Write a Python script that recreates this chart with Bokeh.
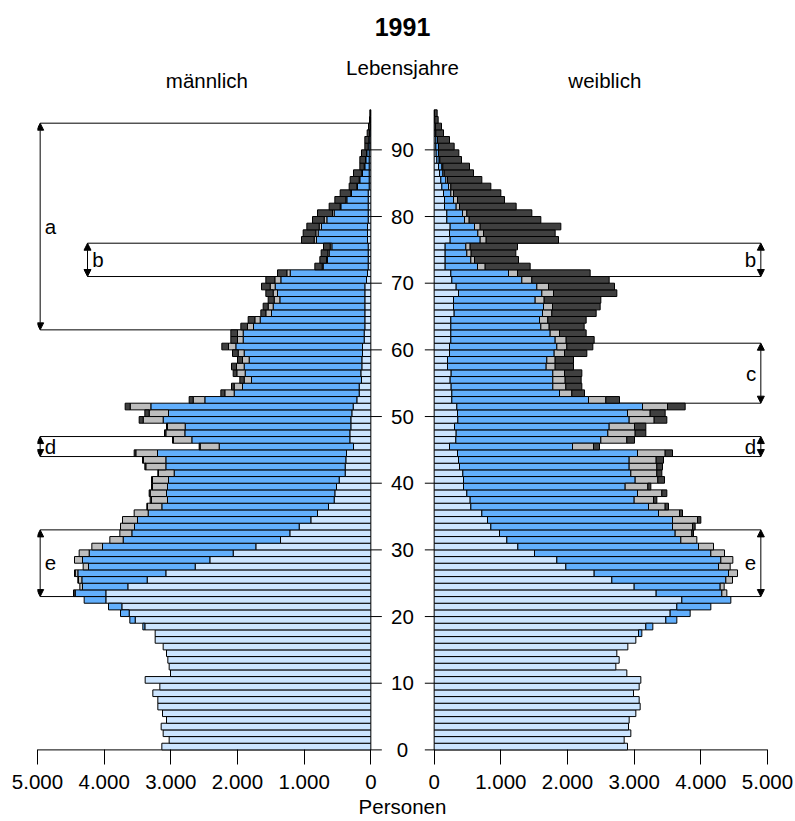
from bokeh.plotting import figure
from bokeh.models import Range1d, FixedTicker, LabelSet, Label, Arrow, NormalHead, ColumnDataSource
from bokeh.embed import file_html
from bokeh.resources import INLINE
from bokeh.core.properties import value

# ---------------- data (persons per single year of age, 1991) ----------------
ages = list(range(96))

# male: light blue, blue, grey, dark grey (stacked from the centre outward)
m_light = [3135, 3025, 3115, 3145, 3065, 3125, 3195, 3195, 3270, 3165,
           3385, 3005, 3025, 3045, 3065, 3115, 3235, 3235, 3390, 3535,
           3625, 3735, 3975, 3975, 3645, 3355, 3075, 2635, 2415, 2065,
           1725, 1355, 1215, 1075, 900, 800, 635, 550, 540, 515,
           475, 385, 385, 375, 365, 260, 315, 315, 300, 300,
           285, 265, 210, 175, 175, 140, 150, 135, 135, 125,
           125, 100, 100, 90, 90, 90, 90, 90, 90, 90,
           65, 50, 40, 40, 40, 40, 50, 50, 50, 40,
           40, 40, 40, 40, 25, 25, 25, 25, 25, 25,
           15, 15, 10, 5, 5, 5]
m_blue = [0, 0, 0, 0, 0, 0, 0, 0, 0, 0,
          0, 0, 0, 0, 0, 0, 0, 0, 30, 80,
          130, 200, 325, 460, 680, 980, 1320, 1600, 1910, 2160,
          2300, 2360, 2370, 2470, 2600, 2540, 2500, 2500, 2525, 2535,
          2560, 2565, 2690, 2700, 2835, 2015, 2370, 2475, 2485, 2815,
          2750, 3035, 2280, 1875, 1750, 1650, 1735, 1765, 1690, 1775,
          1900, 1815, 1815, 1670, 1570, 1400, 1375, 1275, 1310, 1345,
          1285, 1160, 675, 610, 585, 545, 765, 740, 690, 620,
          510, 410, 320, 250, 175, 140, 100, 65, 50, 35,
          25, 15, 10, 5, 0, 0]
m_gray = [0, 0, 0, 0, 0, 0, 0, 0, 0, 0,
          0, 0, 0, 0, 0, 0, 0, 0, 0, 0,
          0, 0, 0, 0, 40, 50, 40, 80, 120, 150,
          160, 200, 180, 210, 225, 210, 215, 240, 245, 225,
          240, 235, 300, 335, 325, 285, 275, 285, 265, 300,
          290, 310, 175, 140, 125, 110, 125, 115, 100, 90,
          110, 85, 85, 90, 80, 85, 75, 85, 65, 75,
          90, 50, 15, 15, 20, 25, 35, 35, 35, 40,
          25, 10, 15, 10, 10, 10, 10, 10, 5, 5,
          0, 0, 0, 0, 0, 0]
m_dark = [0, 0, 0, 0, 0, 0, 0, 0, 0, 0,
          0, 0, 0, 0, 0, 0, 0, 0, 0, 0,
          0, 0, 0, 25, 0, 10, 10, 0, 0, 0,
          0, 0, 0, 0, 0, 0, 10, 20, 15, 15,
          15, 10, 15, 15, 25, 15, 15, 20, 15, 60,
          65, 75, 60, 60, 40, 65, 55, 75, 75, 85,
          100, 100, 100, 100, 100, 75, 75, 90, 110, 130,
          135, 140, 110, 100, 100, 100, 190, 190, 185, 175,
          225, 165, 165, 160, 115, 135, 125, 65, 85, 75,
          50, 60, 35, 25, 15, 10]

# female
f_light = [2900, 2850, 2950, 2915, 2925, 3025, 3090, 3075, 2990, 3075,
           3100, 2890, 2725, 2775, 2740, 2905, 3025, 3065, 3175, 3475,
           3540, 3640, 3715, 3330, 3000, 2665, 2400, 1975, 1840, 1505,
           1255, 1090, 980, 850, 800, 715, 550, 540, 490, 440,
           440, 430, 380, 365, 350, 230, 325, 330, 305, 355,
           350, 340, 265, 265, 255, 240, 255, 200, 200, 230,
           230, 250, 250, 250, 250, 300, 290, 290, 365, 330,
           265, 250, 165, 165, 165, 165, 240, 230, 240, 190,
           190, 155, 155, 140, 115, 100, 80, 65, 40, 30,
           25, 25, 15, 15, 10, 5]
f_blue = [0, 0, 0, 0, 0, 0, 0, 0, 0, 0,
          0, 0, 0, 0, 0, 0, 0, 50, 105, 165,
          300, 510, 735, 985, 1290, 1710, 2015, 2290, 2460, 2645,
          2710, 2610, 2635, 2725, 2775, 2650, 2665, 2460, 2560, 2425,
          2575, 2520, 2545, 2560, 2700, 1845, 2175, 2275, 2320, 2570,
          2550, 2785, 2050, 1615, 1525, 1540, 1525, 1480, 1490, 1570,
          1610, 1565, 1490, 1350, 1330, 1325, 1350, 1225, 1250, 1210,
          1050, 865, 485, 385, 325, 310, 450, 425, 365, 265,
          235, 175, 135, 110, 100, 75, 50, 50, 35, 35,
          40, 25, 10, 5, 0, 0]
f_gray = [0, 0, 0, 0, 0, 0, 0, 0, 0, 0,
          0, 0, 0, 0, 0, 0, 0, 0, 0, 0,
          0, 0, 0, 75, 60, 100, 135, 175, 180, 205,
          225, 240, 250, 300, 375, 315, 250, 290, 365, 340,
          340, 390, 415, 405, 415, 315, 390, 410, 380, 375,
          340, 375, 260, 185, 195, 185, 175, 135, 125, 155,
          150, 165, 140, 125, 125, 140, 135, 135, 175, 175,
          150, 135, 115, 55, 65, 65, 90, 85, 85, 70,
          65, 50, 60, 40, 35, 25, 20, 15, 10, 0,
          0, 0, 0, 0, 0, 0]
f_dark = [0, 0, 0, 0, 0, 0, 0, 0, 0, 0,
          0, 0, 0, 0, 0, 0, 0, 0, 0, 0,
          0, 0, 0, 0, 0, 0, 0, 0, 0, 0,
          0, 0, 25, 40, 50, 45, 50, 50, 75, 45,
          100, 75, 85, 110, 110, 90, 115, 160, 170, 190,
          225, 265, 205, 190, 240, 240, 260, 275, 275, 335,
          390, 420, 400, 525, 575, 665, 715, 850, 950, 990,
          1160, 1090, 675, 660, 670, 710, 1085, 1075, 1210, 1075,
          975, 850, 705, 710, 600, 515, 440, 400, 325, 305,
          235, 180, 115, 90, 50, 40]

x_tick_values = [0, 1000, 2000, 3000, 4000, 5000]
x_tick_labels = ["0", "1.000", "2.000", "3.000", "4.000", "5.000"]
y_tick_values = [0, 10, 20, 30, 40, 50, 60, 70, 80, 90]
y_tick_labels = [str(v) for v in y_tick_values]

# brackets: label, lower age, upper age
left_br_labels = ["a", "b", "d", "e"]
left_br_lo = [63, 71, 44, 23]
left_br_hi = [94, 76, 47, 33]
right_br_labels = ["b", "c", "d", "e"]
right_br_lo = [71, 52, 44, 23]
right_br_hi = [76, 61, 47, 33]

colors = ["#CCE5FF", "#62AFFC", "#BEBEBE", "#404040"]

# ---------------- layout constants ----------------
FONT = "Liberation Sans"
FS = "20.5px"
GAP = 950          # gap between the panels, in person units
XMAX = 5000
LEFT_BX = [4960, 4250, 4960, 4960]   # x of the left bracket arrows
RIGHT_BX = 4900

p = figure(width=795, height=821,
           x_range=Range1d(-GAP - XMAX, XMAX),
           y_range=Range1d(-2.19, 112.4),
           output_backend="svg", toolbar_location=None,
           y_axis_location=None,
           min_border_left=37, min_border_right=28,
           min_border_top=0, min_border_bottom=57)
p.extra_x_ranges = {"left": Range1d(XMAX, -GAP - XMAX)}
p.grid.visible = False
p.outline_line_color = None
p.background_fill_color = "white"
p.border_fill_color = "white"

# x axis (right-panel values directly, left-panel values mirrored across the gap)
tick_pos = [-GAP - v for v in x_tick_values] + x_tick_values
overrides = {}
for v, lab in zip(x_tick_values, x_tick_labels):
    overrides[-GAP - v] = lab
    overrides[v] = lab
ax = p.xaxis[0]
ax.ticker = FixedTicker(ticks=tick_pos)
ax.major_label_overrides = overrides
ax.axis_line_color = None
ax.major_tick_out = 0
ax.major_tick_in = 15
ax.minor_tick_out = 0
ax.minor_tick_in = 0
ax.major_tick_line_color = "black"
ax.major_label_standoff = 10
ax.major_label_text_font = FONT
ax.major_label_text_font_size = FS
ax.major_label_text_color = "black"
ax.axis_label = "Personen"
ax.axis_label_standoff = 3
ax.axis_label_text_font = FONT
ax.axis_label_text_font_size = FS
ax.axis_label_text_font_style = "normal"
ax.axis_label_text_color = "black"

# axis base lines
p.segment(x0=[0], x1=[XMAX], y0=[0], y1=[0], x_range_name="left", line_color="black", line_width=1)
p.segment(x0=[0], x1=[XMAX], y0=[0], y1=[0], line_color="black", line_width=1)

# bracket horizontal lines (under the bars)
for lo, hi, bx in zip(left_br_lo, left_br_hi, LEFT_BX):
    p.segment(x0=[bx, bx], x1=[0, 0], y0=[lo, hi], y1=[lo, hi],
              x_range_name="left", line_color="black", line_width=1)
for lo, hi in zip(right_br_lo, right_br_hi):
    p.segment(x0=[0, 0], x1=[RIGHT_BX, RIGHT_BX], y0=[lo, hi], y1=[lo, hi],
              line_color="black", line_width=1)

# stacked bars
def draw_side(series, range_name):
    start = [0] * len(ages)
    for vals, col in zip(series, colors):
        ys, lefts, rights = [], [], []
        for a, s, v in zip(ages, start, vals):
            if v > 0:
                ys.append(a + 0.5)
                lefts.append(s)
                rights.append(s + v)
        kw = {"x_range_name": range_name} if range_name else {}
        p.hbar(y=ys, height=1, left=lefts, right=rights,
               fill_color=col, line_color="black", line_width=1, **kw)
        start = [s + v for s, v in zip(start, vals)]

draw_side([m_light, m_blue, m_gray, m_dark], "left")
draw_side([f_light, f_blue, f_gray, f_dark], None)

# y ticks between the panels
n = len(y_tick_values)
p.segment(x0=[0] * n, x1=[-165] * n, y0=y_tick_values, y1=y_tick_values,
          x_range_name="left", line_color="black", line_width=1)
p.segment(x0=[-140] * n, x1=[0] * n, y0=y_tick_values, y1=y_tick_values,
          line_color="black", line_width=1)
ysrc = ColumnDataSource(dict(x=[-GAP / 2] * n, y=y_tick_values, t=y_tick_labels))
p.add_layout(LabelSet(x="x", y="y", text="t", source=ysrc, text_align="center",
                      text_baseline="middle", text_font=value(FONT), text_font_size=value(FS),
                      text_color="black"))

# bracket arrows and labels
def head():
    return NormalHead(size=7, fill_color="black", line_color="black", line_width=1)

for lo, hi, bx in zip(left_br_lo, left_br_hi, LEFT_BX):
    p.add_layout(Arrow(start=head(), end=head(), x_start=bx, x_end=bx, y_start=lo, y_end=hi,
                       x_range_name="left", line_color="black", line_width=1))
for lo, hi in zip(right_br_lo, right_br_hi):
    p.add_layout(Arrow(start=head(), end=head(), x_start=RIGHT_BX, x_end=RIGHT_BX,
                       y_start=lo, y_end=hi, line_color="black", line_width=1))

lsrc = ColumnDataSource(dict(x=[b - 70 for b in LEFT_BX],
                             y=[(lo + hi) / 2 for lo, hi in zip(left_br_lo, left_br_hi)],
                             t=left_br_labels))
p.add_layout(LabelSet(x="x", y="y", text="t", source=lsrc, x_range_name="left",
                      text_align="left", text_baseline="middle",
                      text_font=value(FONT), text_font_size=value(FS), text_color="black"))
rsrc = ColumnDataSource(dict(x=[RIGHT_BX - 70] * len(right_br_labels),
                             y=[(lo + hi) / 2 for lo, hi in zip(right_br_lo, right_br_hi)],
                             t=right_br_labels))
p.add_layout(LabelSet(x="x", y="y", text="t", source=rsrc,
                      text_align="right", text_baseline="middle",
                      text_font=value(FONT), text_font_size=value(FS), text_color="black"))

# titles
p.add_layout(Label(x=-GAP / 2, y=108.45, text="1991", text_align="center",
                   text_baseline="alphabetic", text_font=FONT, text_font_size="25px",
                   text_font_style="bold", text_color="black"))
p.add_layout(Label(x=-GAP / 2, y=102.3, text="Lebensjahre", text_align="center",
                   text_baseline="alphabetic", text_font=FONT, text_font_size=FS,
                   text_color="black"))
p.add_layout(Label(x=2460, y=100.4, text="männlich", x_range_name="left", text_align="center",
                   text_baseline="alphabetic", text_font=FONT, text_font_size=FS,
                   text_color="black"))
p.add_layout(Label(x=2560, y=100.4, text="weiblich", text_align="center",
                   text_baseline="alphabetic", text_font=FONT, text_font_size=FS,
                   text_color="black"))

open("out.html", "w").write(file_html(p, INLINE))
